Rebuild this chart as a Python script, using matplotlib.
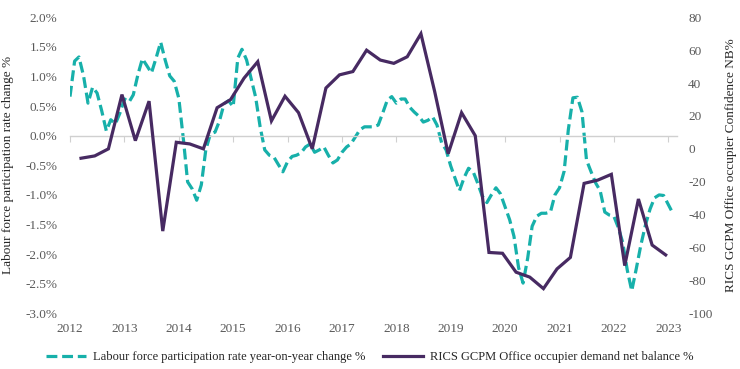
import matplotlib
matplotlib.use('Agg')
import matplotlib.pyplot as plt
import matplotlib.dates as mdates
from matplotlib.ticker import FuncFormatter
import numpy as np
import pandas as pd

plt.rcParams['font.family'] = ['Liberation Serif', 'DejaVu Serif']

# ---- data ----
lfp_label = "Labour force participation rate year-on-year change %"
rics_label = "RICS GCPM Office occupier demand net balance %"

# monthly, Jan 2012 .. Feb 2023 (% change)
lfp_change = [
    0.66, 1.26, 1.33, 1.01, 0.55, 0.82, 0.72, 0.42, 0.08, 0.27, 0.20, 0.38,   # 2012
    0.62, 0.57, 0.69, 1.03, 1.30, 1.18, 1.06, 1.31, 1.58, 1.28, 1.01, 0.92,   # 2013
    0.63, -0.07, -0.78, -0.90, -1.09, -0.83, -0.24, 0.03, 0.06, 0.25, 0.54, 0.59,  # 2014
    0.49, 1.31, 1.46, 1.28, 0.97, 0.65, 0.15, -0.24, -0.33, -0.36, -0.49, -0.61,  # 2015
    -0.44, -0.35, -0.33, -0.29, -0.19, -0.14, -0.28, -0.24, -0.19, -0.33, -0.46, -0.41,  # 2016
    -0.28, -0.19, -0.14, -0.02, 0.10, 0.15, 0.15, 0.15, 0.18, 0.38, 0.60, 0.66,  # 2017
    0.55, 0.62, 0.62, 0.48, 0.40, 0.33, 0.23, 0.26, 0.32, 0.18, -0.12, -0.24,  # 2018
    -0.51, -0.73, -0.93, -0.71, -0.55, -0.61, -0.80, -1.02, -1.13, -1.00, -0.88, -0.98,  # 2019
    -1.20, -1.42, -1.70, -2.23, -2.49, -2.07, -1.53, -1.36, -1.31, -1.31, -1.29, -1.00,  # 2020
    -0.88, -0.60, 0.10, 0.64, 0.65, 0.40, -0.41, -0.61, -0.80, -0.93, -1.29, -1.34,  # 2021
    -1.36, -1.56, -1.80, -2.27, -2.62, -2.24, -1.85, -1.51, -1.24, -1.05, -1.00, -1.01,  # 2022
    -1.16, -1.31,  # 2023
]
lfp_dates = pd.date_range('2012-01-01', periods=len(lfp_change), freq='MS')

# quarterly, Q1 2012 .. Q4 2022 (net balance)
rics_balance = [
    -5.7, -4.3, 0, 33,
    5, 29, -50, 4,
    3, 0, 25, 30,
    43, 53, 17, 32,
    22, 0, 37, 45,
    47, 60, 54, 52,
    56, 70, 35, -3,
    22, 8, -63, -63.5,
    -75, -78, -85, -73,
    -66, -21, -19, -15.5,
    -71, -30.5, -58.5, -64.5,
]
rics_dates = pd.date_range('2012-03-15', periods=len(rics_balance),
                           freq=pd.DateOffset(months=3))

year_ticks = list(range(2012, 2024))
left_ticks = np.arange(-3.0, 2.01, 0.5)
right_ticks = list(range(-100, 81, 20))

teal = '#17b0aa'
purple = '#472a62'
tick_color = '#595959'
fs_tick = 9.5
fs_lab = 9.5
fs_leg = 9

fig = plt.figure(figsize=(7.4, 3.69), dpi=100)
ax = fig.add_axes([70 / 740, 1 - 313.3 / 369, 607 / 740, 296 / 369])
ax2 = ax.twinx()

l1, = ax.plot(lfp_dates, lfp_change, color=teal, lw=2.3, dashes=(3.4, 1.5),
              dash_capstyle='butt', label=lfp_label)
l2, = ax2.plot(rics_dates, rics_balance, color=purple, lw=2.3,
               solid_joinstyle='miter', label=rics_label)

ax.set_xlim(pd.Timestamp('2012-01-01'), pd.Timestamp('2023-03-01'))
ax.set_ylim(-3.0, 2.0)
ax2.set_ylim(-100, 80)

ax.set_yticks(left_ticks)
ax.yaxis.set_major_formatter(FuncFormatter(lambda v, p: f"{v:.1f}%"))
ax2.set_yticks(right_ticks)
ax2.yaxis.set_major_formatter(FuncFormatter(lambda v, p: f"{int(round(v))}"))

for a in (ax, ax2):
    for s in ('top', 'left', 'right'):
        a.spines[s].set_visible(False)
ax2.spines['bottom'].set_visible(False)

# zero line with year ticks
ax.spines['bottom'].set_position(('data', 0))
ax.spines['bottom'].set_color('#d0d0d0')
ax.spines['bottom'].set_linewidth(1.0)
ax.set_xticks([pd.Timestamp(f'{y}-01-01') for y in year_ticks])
ax.tick_params(axis='x', direction='out', length=4, color='#d0d0d0',
               labelbottom=False)

# year labels at the bottom
sec = ax.secondary_xaxis('bottom')
sec.set_xticks([pd.Timestamp(f'{y}-01-01') for y in year_ticks])
sec.xaxis.set_major_formatter(mdates.DateFormatter('%Y'))
sec.spines['bottom'].set_visible(False)
sec.tick_params(length=0, labelsize=fs_tick, labelcolor=tick_color, pad=7)

ax.tick_params(axis='y', length=0, labelsize=fs_tick, labelcolor=tick_color, pad=9)
ax2.tick_params(axis='y', length=0, labelsize=fs_tick, labelcolor=tick_color, pad=8)

ax.set_ylabel("Labour force participation rate change %", fontsize=fs_lab,
              color='#262626')
ax.yaxis.set_label_coords(-0.092, 0.5)
ax2.set_ylabel("RICS GCPM Office occupier Confidence NB%", fontsize=fs_lab,
               color='#262626', rotation=90)
ax2.yaxis.set_label_coords(1.079, 0.5)

ax.set_zorder(ax2.get_zorder() - 1)
ax2.patch.set_visible(False)

fig.legend([l1, l2], [lfp_label, rics_label], loc='center',
           bbox_to_anchor=(0.5, 1 - 357 / 369), ncol=2, frameon=False,
           fontsize=fs_leg, handlelength=3.2, handletextpad=0.55,
           columnspacing=1.4, labelcolor='#262626')

fig.savefig('out.png', dpi=100)
